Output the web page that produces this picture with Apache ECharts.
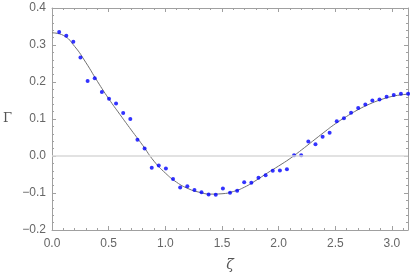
<!DOCTYPE html>
<html><head><meta charset="utf-8">
<script src="https://cdn.jsdelivr.net/npm/echarts@6/dist/echarts.min.js"></script>
<style>html,body{margin:0;padding:0;background:#fff}#c{width:410px;height:277px}</style>
</head><body><div id="c"></div>
<script>
// measured points
const zeta = [0.063,0.126,0.188,0.251,0.314,0.377,0.440,0.503,0.565,0.628,0.691,0.754,0.817,0.880,0.942,1.005,1.068,1.131,1.194,1.257,1.319,1.382,1.445,1.508,1.571,1.634,1.696,1.759,1.822,1.885,1.948,2.011,2.073,2.136,2.199,2.262,2.325,2.388,2.450,2.513,2.576,2.639,2.702,2.765,2.827,2.890,2.953,3.016,3.079,3.142];
const gamma = [0.335,0.325,0.309,0.266,0.203,0.210,0.173,0.155,0.142,0.116,0.100,0.044,0.020,-0.032,-0.026,-0.034,-0.062,-0.085,-0.082,-0.092,-0.098,-0.104,-0.105,-0.088,-0.099,-0.094,-0.071,-0.072,-0.059,-0.052,-0.040,-0.039,-0.036,0.002,0.002,0.039,0.032,0.052,0.063,0.094,0.102,0.117,0.130,0.139,0.150,0.153,0.160,0.165,0.168,0.168];
// theory curve
const curveZeta = [0,0.1,0.2,0.3,0.4,0.5,0.6,0.7,0.8,0.9,1.0,1.1,1.2,1.3,1.4,1.5,1.6,1.7,1.8,1.9,2.0,2.1,2.2,2.3,2.4,2.5,2.6,2.7,2.8,2.9,3.0,3.1,3.1416];
const curveGamma = [0.333,0.326,0.296,0.252,0.202,0.155,0.112,0.070,0.029,-0.014,-0.046,-0.071,-0.088,-0.098,-0.103,-0.102,-0.096,-0.084,-0.066,-0.046,-0.027,-0.007,0.016,0.040,0.064,0.087,0.107,0.125,0.140,0.152,0.161,0.166,0.167];
const xTicks = {min:0, max:Math.PI, interval:0.5};
const yTicks = {min:-0.2, max:0.4, interval:0.1};

const frame = '#a0a0a0';
const fmt = v => v.toFixed(1).replace('-', '\u2212');
function xa(pos, show){
  return {type:'value', position:pos, min:xTicks.min, max:xTicks.max, interval:xTicks.interval,
    axisLine:{show:true, onZero:false, lineStyle:{color:frame, width:1}},
    axisTick:{show:true, inside:true, length:4, lineStyle:{color:frame}},
    minorTick:{show:true, splitNumber:5, length:2, lineStyle:{color:frame}},
    splitLine:{show:false}, minorSplitLine:{show:false},
    axisLabel:{show:show, showMaxLabel:false, formatter:fmt, color:'#666', fontSize:12, fontFamily:'Liberation Sans', margin:8},
    name: show ? 'ζ' : '', nameLocation:'middle', nameGap:28,
    nameTextStyle:{fontFamily:'DejaVu Serif', fontStyle:'italic', fontSize:14, color:'#555'}};
}
function ya(pos, show){
  return {type:'value', position:pos, min:yTicks.min, max:yTicks.max, interval:yTicks.interval,
    axisLine:{show:true, onZero:false, lineStyle:{color:frame, width:1}},
    axisTick:{show:true, inside:true, length:4, lineStyle:{color:frame}},
    minorTick:{show:true, splitNumber:5, length:2, lineStyle:{color:frame}},
    splitLine:{show:false}, minorSplitLine:{show:false},
    axisLabel:{show:show, formatter:fmt, color:'#666', fontSize:12, fontFamily:'Liberation Sans', margin:6},
    name: show ? 'Γ' : '', nameLocation:'middle', nameGap:40, nameRotate:0,
    nameTextStyle:{fontFamily:'DejaVu Serif', fontSize:13, color:'#555'}};
}
const chart = echarts.init(document.getElementById('c'), null, {renderer:'canvas'});
chart.setOption({
  animation:false,
  grid:{left:48, top:8, width:360, height:224, containLabel:false},
  xAxis:[xa('bottom', true), xa('top', false)],
  yAxis:[ya('left', true), ya('right', false)],
  series:[
    {type:'line', xAxisIndex:0, yAxisIndex:0, data:curveZeta.map((x,i)=>[x,curveGamma[i]]),
     smooth:true, showSymbol:false, symbol:'none', lineStyle:{color:'#707070', width:1}, z:3,
     markLine:{silent:true, symbol:'none', label:{show:false}, lineStyle:{color:'#d8d8d8', width:1.5, type:'solid'}, data:[{yAxis:0}]}},
    {type:'scatter', xAxisIndex:0, yAxisIndex:0, data:zeta.map((x,i)=>[x,gamma[i]]),
     symbol:'circle', symbolSize:4, itemStyle:{color:'#0000ff'}, clip:false, z:4}
  ]
});
</script></body></html>
